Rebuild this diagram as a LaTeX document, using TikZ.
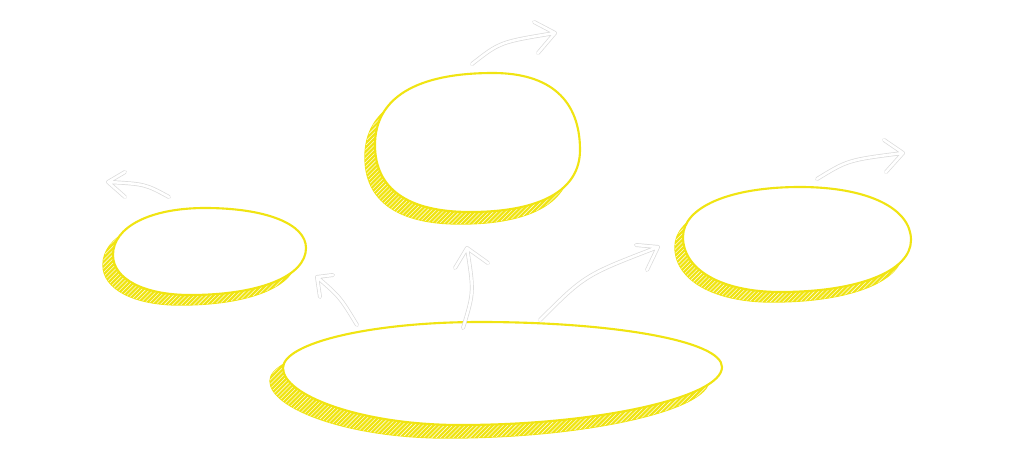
\documentclass[tikz,border=0pt]{standalone}
\usetikzlibrary{patterns}
\definecolor{sketchyellow}{RGB}{240,228,18}
\definecolor{arrowgray}{RGB}{218,218,218}
\tikzset{
  blobshadow/.style={fill=sketchyellow, draw=sketchyellow, line width=1pt,
    postaction={pattern=north east lines, pattern color=white!85!sketchyellow}},
  blobline/.style={fill=white, draw=sketchyellow, line width=1.5pt},
  sketcharrow/.style={draw=arrowgray, line width=0.5pt, double=white,
    double distance=1.8pt, line cap=round, line join=round}
}
\begin{document}
\begin{tikzpicture}[x=0.025cm,y=-0.025cm]
            \useasboundingbox (0,0) rectangle (1024,452);
            % bottom blob
            \draw[blobshadow,shift={(-13,13)}] (283,368) .. controls (283,343) and (371,322) .. (480,322) .. controls (614,322) and (722,341) .. (722,367) .. controls (722,397) and (600,425) .. (460,425) .. controls (360,425) and (283,395) .. cycle;
            \draw[blobline] (283,368) .. controls (283,343) and (371,322) .. (480,322) .. controls (614,322) and (722,341) .. (722,367) .. controls (722,397) and (600,425) .. (460,425) .. controls (360,425) and (283,395) .. cycle;
            % top blob
            \draw[blobshadow,shift={(-10,12)}] (375,145) .. controls (375,98) and (416,73) .. (493,73) .. controls (550,73) and (580,100) .. (580,150) .. controls (580,190) and (541,212) .. (470,212) .. controls (408,212) and (375,189) .. cycle;
            \draw[blobline] (375,145) .. controls (375,98) and (416,73) .. (493,73) .. controls (550,73) and (580,100) .. (580,150) .. controls (580,190) and (541,212) .. (470,212) .. controls (408,212) and (375,189) .. cycle;
            % left blob
            \draw[blobshadow,shift={(-10,10)}] (113,255) .. controls (113,227) and (150,208) .. (205,208) .. controls (266,208) and (306,224) .. (306,248) .. controls (306,276) and (260,295) .. (190,295) .. controls (144,295) and (113,279) .. cycle;
            \draw[blobline] (113,255) .. controls (113,227) and (150,208) .. (205,208) .. controls (266,208) and (306,224) .. (306,248) .. controls (306,276) and (260,295) .. (190,295) .. controls (144,295) and (113,279) .. cycle;
            % right blob
            \draw[blobshadow,shift={(-8,10)}] (683,237) .. controls (683,207) and (730,187) .. (800,187) .. controls (867,187) and (911,208) .. (911,240) .. controls (911,271) and (859,292) .. (780,292) .. controls (722,292) and (683,270) .. cycle;
            \draw[blobline] (683,237) .. controls (683,207) and (730,187) .. (800,187) .. controls (867,187) and (911,208) .. (911,240) .. controls (911,271) and (859,292) .. (780,292) .. controls (722,292) and (683,270) .. cycle;

            % arrow ends
            \coordinate (topS) at (472,64);   \coordinate (topT) at (555,33);
            \coordinate (leftS) at (169,197); \coordinate (leftT) at (108,182);
            \coordinate (rightS) at (817,179);\coordinate (rightT) at (903,153);
            \coordinate (oneS) at (357,325);  \coordinate (oneT) at (317,277);
            \coordinate (twoS) at (463,328);  \coordinate (twoT) at (467,248);
            \coordinate (threeS) at (540,320);\coordinate (threeT) at (658,247);

            \draw[sketcharrow] (topS) .. controls (500,42) .. (topT) (534,22) -- (topT) -- (538,53);
            \draw[sketcharrow] (leftS) .. controls (145,184) .. (leftT) (125,172) -- (leftT) -- (125,197);
            \draw[sketcharrow] (rightS) .. controls (848,160) .. (rightT) (884,140) -- (rightT) -- (886,172);
            \draw[sketcharrow] (oneS) .. controls (340,297) .. (oneT) (333,275) -- (oneT) -- (320,297);
            \draw[sketcharrow] (twoS) .. controls (474,292) .. (twoT) (488,263) -- (twoT) -- (455,268);
            \draw[sketcharrow] (threeS) .. controls (585,275) .. (threeT) (636,245) -- (threeT) -- (647,270);
        \end{tikzpicture}
\end{document}
